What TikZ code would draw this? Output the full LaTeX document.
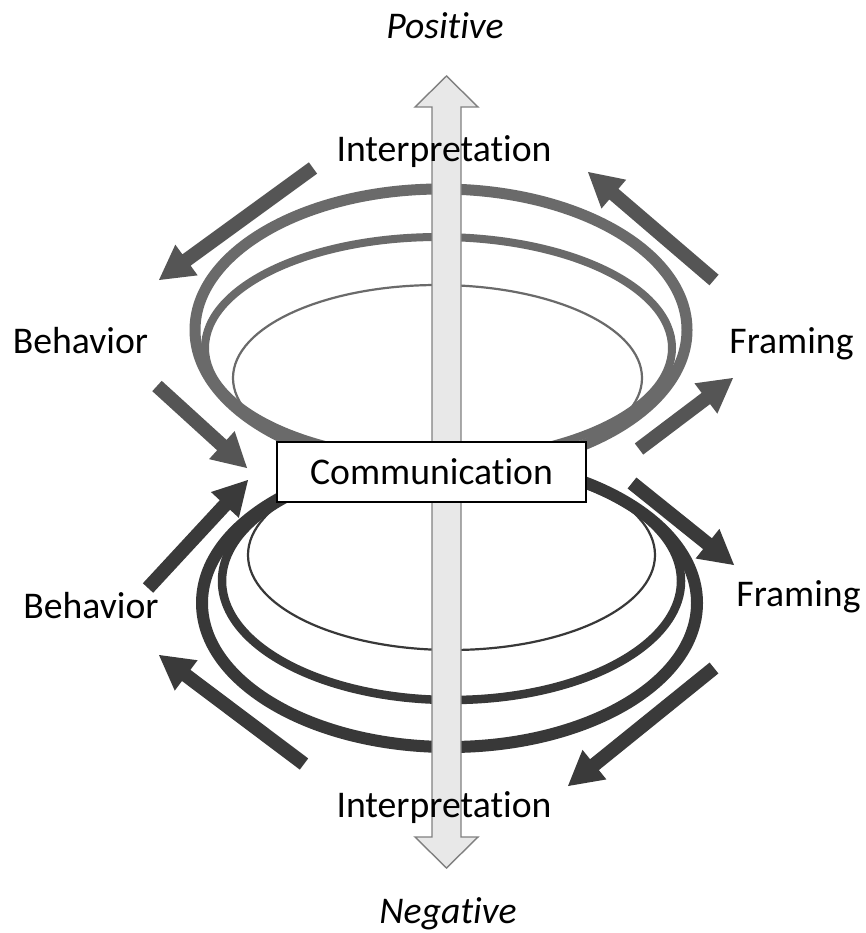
\documentclass[tikz,border=0pt]{standalone}
\usepackage{fontspec}
\setmainfont{Carlito}[Ligatures={NoCommon,NoRare,NoContextual}]
\usetikzlibrary{calc}
\definecolor{ringup}{RGB}{106,106,106}
\definecolor{ringlow}{RGB}{56,56,56}
\definecolor{arrup}{RGB}{85,85,85}
\definecolor{arrlow}{RGB}{58,58,58}
\definecolor{axisfill}{RGB}{232,232,232}
\definecolor{axisline}{RGB}{128,128,128}
% block arrow: #1 tail, #2 tip, #3 colour
\newcommand\blockarr[3]{%
  \coordinate (ba-h) at ($(#2)!34pt!(#1)$);
  \fill[#3] ($(#1)!7pt!90:(#2)$) -- ($(ba-h)!7pt!90:(#2)$) -- ($(ba-h)!19pt!90:(#2)$)
    -- (#2) -- ($(ba-h)!19pt!-90:(#2)$) -- ($(ba-h)!7pt!-90:(#2)$)
    -- ($(#1)!7pt!-90:(#2)$) -- cycle;}
\tikzset{
  lbl/.style={font=\fontsize{37.7}{45}\selectfont, inner sep=0pt, anchor=base},
  ilbl/.style={font=\fontsize{37.7}{45}\selectfont\itshape, inner sep=0pt, anchor=base},
  commbox/.style={draw=black, fill=white, line width=1.3pt, minimum width=309pt,
    minimum height=60pt, inner sep=0pt, font=\fontsize{37.7}{45}\selectfont},
  upring/.style={draw=ringup},
  lowring/.style={draw=ringlow},
  axisarrow/.style={fill=axisfill, draw=axisline, line width=1.4pt, line join=miter}
}
\begin{document}
\begin{tikzpicture}[x=1pt,y=-1pt]
\useasboundingbox (0,0) rectangle (865,933);
\fill[white] (0,0) rectangle (865,933);

% upper rings
\path[upring, line width=11pt] (441,330) ellipse [x radius=246pt, y radius=141pt];
\path[upring, line width=8pt] (438.5,348) ellipse [x radius=233.5pt, y radius=111pt];
\path[upring, line width=2.2pt] (437.5,378) ellipse [x radius=204.5pt, y radius=93pt];
% lower rings
\path[lowring, line width=12pt] (449.5,603) ellipse [x radius=247.5pt, y radius=144pt];
\path[lowring, line width=8.5pt] (451.5,581) ellipse [x radius=229.5pt, y radius=119pt];
\path[lowring, line width=2.2pt] (451.5,555) ellipse [x radius=203.5pt, y radius=95pt];

% vertical axis arrow
\coordinate (axtop) at (446.5,76);
\coordinate (axbot) at (446.5,868);
\path[axisarrow] (axtop) -- ++(31.5,31) -- ++(-17,0) -- ++(0,730) -- ++(17,0)
  -- (axbot) -- ++(-31.5,-31) -- ++(17,0) -- ++(0,-730) -- ++(-17,0) -- cycle;

% central box
\node[commbox] (comm) at (431.5,472) {Communication};

% labels
\node[ilbl] (pos) at (445,39) {Positive};
\node[lbl] (intup) at (444,162) {Interpretation};
\node[lbl] (behup) at (80.5,353) {Behavior};
\node[lbl] (frup) at (791.5,353) {Framing};
\node[lbl] (behlow) at (91,618) {Behavior};
\node[lbl] (frlow) at (798.5,606) {Framing};
\node[lbl] (intlow) at (444,817) {Interpretation};
\node[ilbl] (neg) at (448,923) {Negative};

% block arrows
\coordinate (a1t) at (313,168); \coordinate (a1h) at (159,280);
\coordinate (a2t) at (714,280); \coordinate (a2h) at (588,172);
\coordinate (a3t) at (157,386); \coordinate (a3h) at (247,468);
\coordinate (a4t) at (639,449); \coordinate (a4h) at (733,378);
\coordinate (a5t) at (148,588); \coordinate (a5h) at (248,480);
\coordinate (a6t) at (632,483); \coordinate (a6h) at (734,565);
\coordinate (a7t) at (714,668); \coordinate (a7h) at (568,786);
\coordinate (a8t) at (304,764); \coordinate (a8h) at (159,655);
\blockarr{a1t}{a1h}{arrup}
\blockarr{a2t}{a2h}{arrup}
\blockarr{a3t}{a3h}{arrup}
\blockarr{a4t}{a4h}{arrup}
\blockarr{a5t}{a5h}{arrlow}
\blockarr{a6t}{a6h}{arrlow}
\blockarr{a7t}{a7h}{arrlow}
\blockarr{a8t}{a8h}{arrlow}
\end{tikzpicture}
\end{document}
